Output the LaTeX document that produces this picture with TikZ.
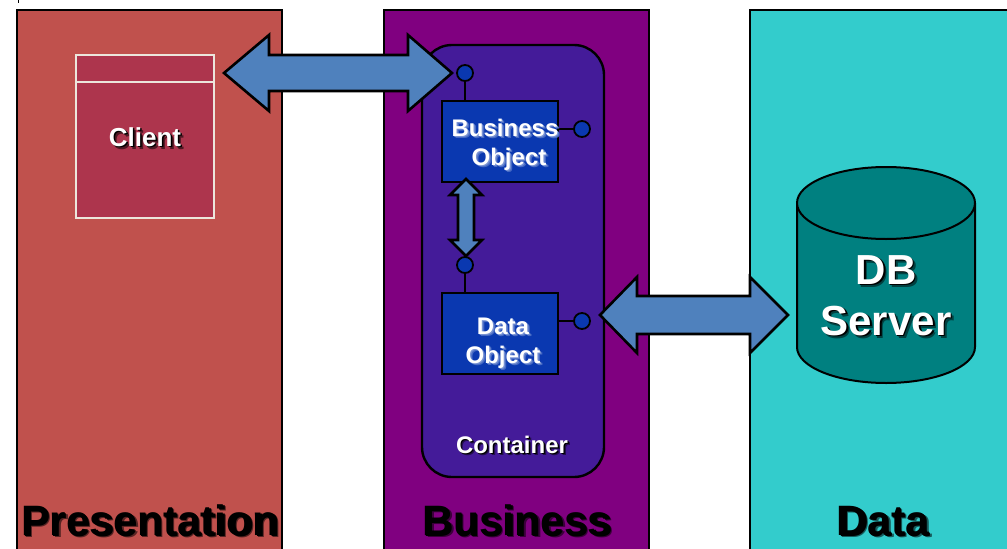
\documentclass[tikz,border=0pt]{standalone}
\usepackage{fontspec}
\usetikzlibrary{shapes.geometric}
\setmainfont{Liberation Sans}
\definecolor{presc}{HTML}{C0514D}
\definecolor{clientc}{HTML}{AD354D}
\definecolor{busc}{HTML}{800080}
\definecolor{contc}{HTML}{441B99}
\definecolor{boxc}{HTML}{0A38B0}
\definecolor{datac}{HTML}{33CCCC}
\definecolor{cylc}{HTML}{008080}
\definecolor{arrowc}{HTML}{4F81BD}
\definecolor{framec}{HTML}{ECE6DC}
% text with an offset drop shadow: {front}{shadow}{soft shadow}{offset}{text}
\newcommand{\shtext}[5]{%
  \makebox[0pt][l]{\hspace{#4pt}\hspace{#4pt}\raisebox{-#4pt}{\raisebox{-#4pt}{\textcolor{#3}{#5}}}}%
  \makebox[0pt][l]{\hspace{#4pt}\raisebox{-#4pt}{\textcolor{#2}{#5}}}%
  \textcolor{#1}{#5}}
\tikzset{
  x=1pt,y=-1pt,
  panel/.style={draw=black,line width=2.6pt},
  block/.style={draw=black,line width=2.6pt,fill=arrowc,line join=miter},
  objbox/.style={draw=black,line width=2pt,fill=boxc,inner sep=0pt,minimum width=116pt,minimum height=81pt},
  port/.style={circle,draw=black,line width=1.8pt,fill=boxc,inner sep=0pt,minimum size=16pt},
  wire/.style={draw=black,line width=1.6pt},
  label/.style={inner sep=0pt,anchor=base,font=\bfseries},
  tiny/.style={label,font=\bfseries\fontsize{24}{29}\selectfont,align=left},
  title/.style={label,font=\bfseries\fontsize{42.5}{48}\selectfont},
}
\begin{document}
\begin{tikzpicture}
\useasboundingbox (0,0) rectangle (1007,549);
\clip (0,0) rectangle (1007,549);
\fill[white] (0,0) rectangle (1007,549);
% panels
\draw[panel,fill=presc] (17,560) -- (17,10) -- (282,10) -- (282,560);
\draw[panel,fill=busc] (384,560) -- (384,10) -- (649,10) -- (649,560);
\draw[panel,fill=datac] (750,560) -- (750,10) -- (1020,10) -- (1020,560);
\draw[black,line width=1pt] (18,0) -- (18,3);
% client
\node[draw=framec,line width=1.6pt,fill=clientc,inner sep=0pt,minimum width=138pt,minimum height=163pt] (client) at (145,136.5) {};
\draw[framec,line width=1.6pt] (client.west |- 0,82) -- (client.east |- 0,82);
\node[label,font=\bfseries\fontsize{26}{30}\selectfont] (clienttxt) at (145,146) {\shtext{white}{black}{clientc!45!black}{1.5}{Client}};
% container
\node[draw=black,line width=2.4pt,fill=contc,rounded corners=30pt,inner sep=0pt,minimum width=182pt,minimum height=432pt] (container) at (513,261) {};
\node[tiny,anchor=base] (conttxt) at (512,453) {\shtext{white}{black}{contc!50!black}{1.2}{Container}};
% objects
\node[objbox] (bo) at (500,141.5) {};
\node[objbox] (do) at (500,333.5) {};
\node[port] (p1) at (465,73) {};
\node[port] (p2) at (582,129) {};
\node[port] (p3) at (465,265) {};
\node[port] (p4) at (582,321) {};
\draw[wire] (p1) -- (p1 |- bo.north);
\draw[wire] (p2) -- (p2 -| bo.east);
\draw[wire] (p3) -- (p3 |- do.north);
\draw[wire] (p4) -- (p4 -| do.east);
\node[tiny,anchor=base] (botxt1) at (505,136) {\shtext{white}{boxc!55!white}{boxc!75!white}{1.2}{Business}};
\node[tiny,anchor=base] (botxt2) at (509,165) {\shtext{white}{boxc!55!white}{boxc!75!white}{1.2}{Object}};
\node[tiny,anchor=base] (dotxt1) at (503,334) {\shtext{white}{boxc!55!white}{boxc!75!white}{1.2}{Data}};
\node[tiny,anchor=base] (dotxt2) at (503,363) {\shtext{white}{boxc!55!white}{boxc!75!white}{1.2}{Object}};
% block arrows
\coordinate (a1l) at (224,73);
\coordinate (a1r) at (452,73);
\draw[block] (a1l) -- ([shift={(45,-38)}]a1l) -- ([shift={(45,-18)}]a1l) -- ([shift={(-44,-18)}]a1r) -- ([shift={(-44,-38)}]a1r) -- (a1r) -- ([shift={(-44,38)}]a1r) -- ([shift={(-44,18)}]a1r) -- ([shift={(45,18)}]a1l) -- ([shift={(45,38)}]a1l) -- cycle;
\coordinate (a2t) at (466,179);
\coordinate (a2b) at (466,256);
\draw[block] (a2t) -- ([shift={(16,16)}]a2t) -- ([shift={(8,16)}]a2t) -- ([shift={(8,-16)}]a2b) -- ([shift={(16,-16)}]a2b) -- (a2b) -- ([shift={(-16,-16)}]a2b) -- ([shift={(-8,-16)}]a2b) -- ([shift={(-8,16)}]a2t) -- ([shift={(-16,16)}]a2t) -- cycle;
\coordinate (a3l) at (600,315);
\coordinate (a3r) at (788,315);
\draw[block] (a3l) -- ([shift={(37,-38)}]a3l) -- ([shift={(37,-19)}]a3l) -- ([shift={(-38,-19)}]a3r) -- ([shift={(-38,-38)}]a3r) -- (a3r) -- ([shift={(-38,38)}]a3r) -- ([shift={(-38,19)}]a3r) -- ([shift={(37,19)}]a3l) -- ([shift={(37,38)}]a3l) -- cycle;
% database
\fill[cylc] (797,203) -- (975,203) -- (975,347) arc[start angle=0,end angle=180,x radius=89,y radius=36] -- cycle;
\draw[black,line width=2pt] (797,203) -- (797,347) arc[start angle=180,end angle=360,x radius=89,y radius=-36] -- (975,203);
\node[draw=black,line width=2pt,fill=cylc,ellipse,inner sep=0pt,minimum width=178pt,minimum height=72pt] (dbtop) at (886,203) {};
\node[label,font=\bfseries\fontsize{42}{48}\selectfont] (dbtxt1) at (886,284) {\shtext{white}{black}{cylc!50!black}{1.5}{DB}};
\node[label,font=\bfseries\fontsize{42}{48}\selectfont] (dbtxt2) at (886,335) {\shtext{white}{black}{cylc!50!black}{1.5}{Server}};
% tier titles
\node[title] (tier1) at (150,535) {\shtext{black}{black}{presc!45!black}{1.3}{Presentation}};
\node[title] (tier2) at (517,535) {\shtext{black}{black}{busc!45!black}{1.3}{Business}};
\node[title] (tier3) at (883,535) {\shtext{black}{black}{datac!45!black}{1.3}{Data}};
\end{tikzpicture}
\end{document}
